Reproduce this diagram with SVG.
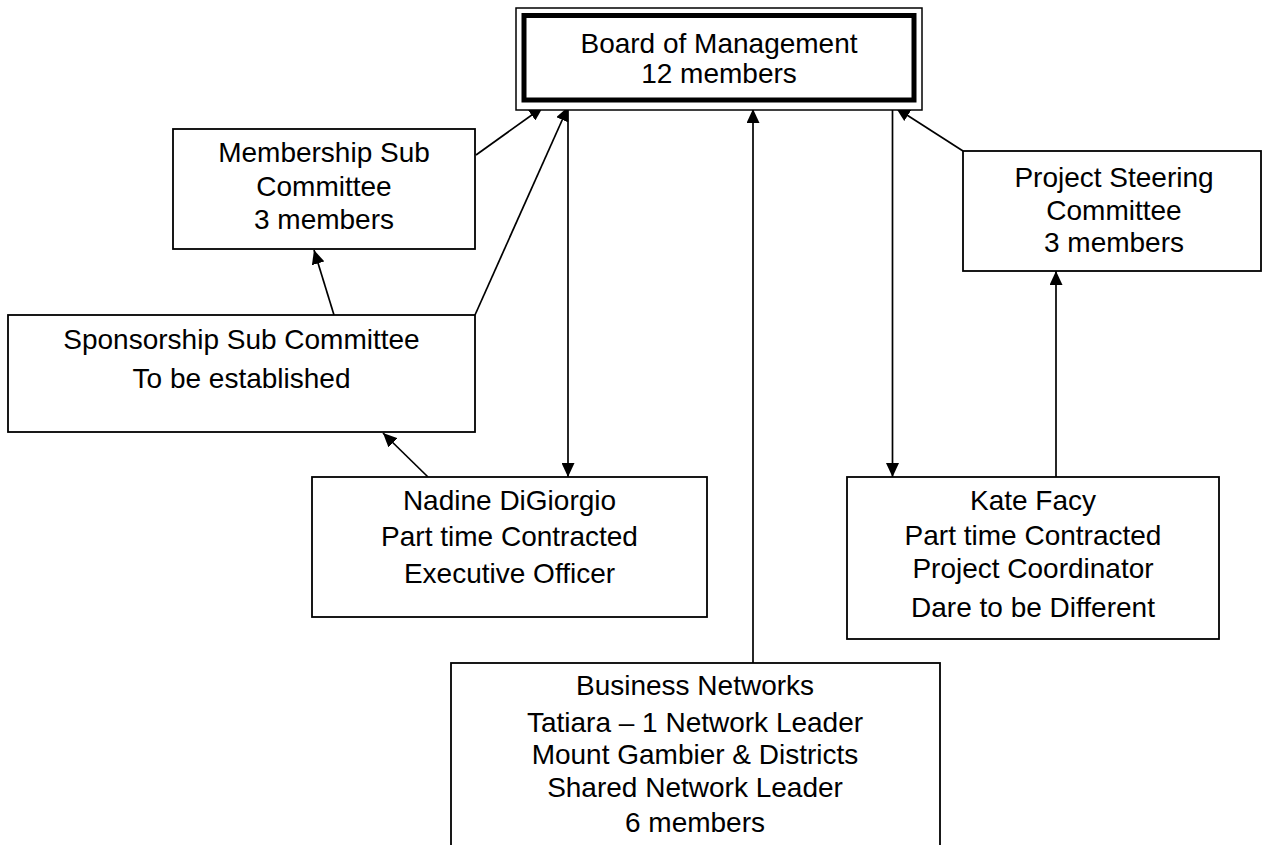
<svg xmlns="http://www.w3.org/2000/svg" width="1263" height="845" viewBox="0 0 1263 845">
<style>
.box{fill:#fff;stroke:#000;stroke-width:1.8}
.t{font-family:"Liberation Sans",Arial,sans-serif;font-size:28px;fill:#000;text-anchor:middle}
.c{fill:none;stroke:#000;stroke-width:1.7}
</style>
<defs>
<marker id="ah" markerUnits="userSpaceOnUse" markerWidth="14" markerHeight="13" refX="14" refY="6.5" orient="auto">
<path d="M0,0 L14,6.5 L0,13 z" fill="#000"/>
</marker>
</defs>
<rect width="1263" height="845" fill="#fff"/>
<g id="connectors">
<line class="c" x1="476" y1="155" x2="543" y2="107" marker-end="url(#ah)"/>
<line class="c" x1="475" y1="315" x2="568" y2="107" stroke-width="2.2" marker-end="url(#ah)"/>
<line class="c" x1="334" y1="315" x2="314" y2="250" stroke-width="2.2" marker-end="url(#ah)"/>
<line class="c" x1="568" y1="108" x2="568" y2="477" marker-end="url(#ah)"/>
<line class="c" x1="428" y1="477" x2="383" y2="433" stroke-width="1.3" marker-end="url(#ah)"/>
<line class="c" x1="753" y1="663" x2="753" y2="109" marker-end="url(#ah)"/>
<line class="c" x1="892.5" y1="110" x2="892.5" y2="477" marker-end="url(#ah)"/>
<line class="c" x1="963" y1="151" x2="896" y2="108" stroke-width="2.2" marker-end="url(#ah)"/>
<line class="c" x1="1056" y1="477" x2="1056" y2="271" marker-end="url(#ah)"/>
</g>
<g id="board">
<rect x="516" y="8" width="406" height="102" fill="#fff" stroke="#000" stroke-width="1.5"/>
<rect x="524" y="15.5" width="390" height="84.5" fill="#fff" stroke="#000" stroke-width="5"/>
<text class="t" x="719" y="52.5">Board of Management</text>
<text class="t" x="719" y="83">12 members</text>
</g>
<g id="membership">
<rect class="box" x="173" y="129" width="302" height="120"/>
<text class="t" x="324" y="162">Membership Sub</text>
<text class="t" x="324" y="196">Committee</text>
<text class="t" x="324" y="229">3 members</text>
</g>
<g id="project-steering">
<rect class="box" x="963" y="151" width="298" height="120"/>
<text class="t" x="1114" y="187">Project Steering</text>
<text class="t" x="1114" y="220">Committee</text>
<text class="t" x="1114" y="252">3 members</text>
</g>
<g id="sponsorship">
<rect class="box" x="8" y="315" width="467" height="117"/>
<text class="t" x="241.5" y="349">Sponsorship Sub Committee</text>
<text class="t" x="241.5" y="388">To be established</text>
</g>
<g id="nadine">
<rect class="box" x="312" y="477" width="395" height="140"/>
<text class="t" x="509.5" y="510">Nadine DiGiorgio</text>
<text class="t" x="509.5" y="546">Part time Contracted</text>
<text class="t" x="509.5" y="583">Executive Officer</text>
</g>
<g id="kate">
<rect class="box" x="847" y="477" width="372" height="162"/>
<text class="t" x="1033" y="510">Kate Facy</text>
<text class="t" x="1033" y="545">Part time Contracted</text>
<text class="t" x="1033" y="578">Project Coordinator</text>
<text class="t" x="1033" y="617">Dare to be Different</text>
</g>
<g id="business">
<rect class="box" x="451" y="663" width="489" height="200"/>
<text class="t" x="695" y="695">Business Networks</text>
<text class="t" x="695" y="732">Tatiara – 1 Network Leader</text>
<text class="t" x="695" y="764">Mount Gambier &amp; Districts</text>
<text class="t" x="695" y="797">Shared Network Leader</text>
<text class="t" x="695" y="832">6 members</text>
</g>
</svg>
